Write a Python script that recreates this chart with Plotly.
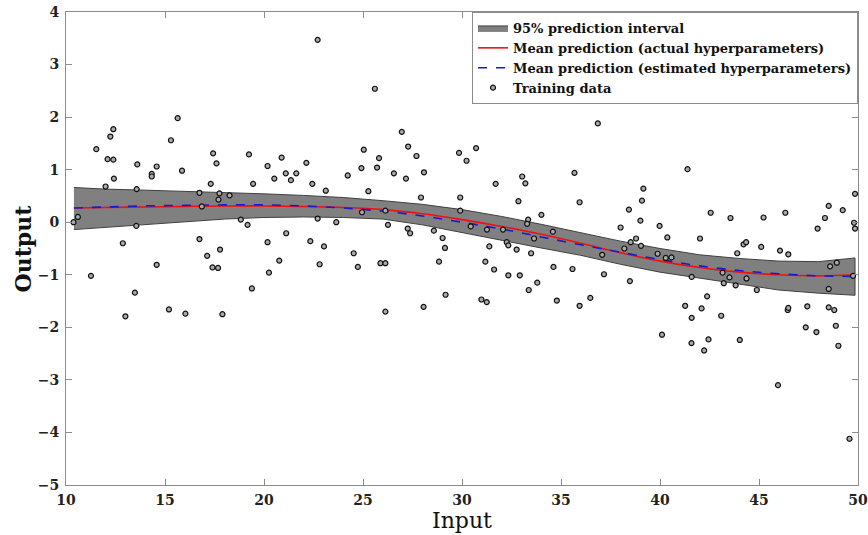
import plotly.graph_objects as go

# Training data
train_x = [10.38, 10.60, 11.53, 12.00, 12.10, 12.39, 12.24, 12.39, 12.42, 12.87, 11.26, 13.57, 13.55, 13.60,
           14.33, 14.33, 14.58, 14.58, 15.30, 15.64, 15.86, 16.74, 16.86, 17.43, 17.60, 17.31, 17.75, 17.70,
           18.26, 16.74, 17.13, 17.78, 17.40, 17.68, 18.83, 19.17, 19.24, 19.45, 20.18, 20.52, 20.89, 21.10,
           21.36, 21.63, 20.18, 21.12, 20.77, 20.25, 13.00, 13.48, 15.20, 16.03, 17.90, 19.39, 22.71, 25.60,
           22.14, 22.44, 23.12, 24.23, 24.92, 25.04, 25.71, 25.81, 25.27, 26.56, 26.96, 27.17, 27.28, 27.70,
           28.08, 27.93, 29.85, 30.23, 30.71, 29.91, 29.91, 31.70, 33.04, 33.20, 32.85, 34.01, 35.68, 35.94,
           22.71, 23.65, 24.95, 26.13, 26.26, 27.26, 27.38, 28.58, 29.02, 29.14, 30.44, 31.38, 31.26, 32.07,
           32.26, 32.34, 32.76, 33.34, 33.29, 33.64, 33.49, 34.59, 22.34, 23.03, 22.81, 24.53, 24.74, 25.88,
           26.13, 28.84, 31.18, 31.62, 32.34, 32.92, 34.62, 35.58, 26.13, 28.06, 29.17, 30.98, 31.25, 33.37,
           33.80, 34.79, 35.94, 36.86, 41.39, 39.16, 39.09, 38.43, 39.01, 38.01, 39.98, 40.37, 38.79, 38.52,
           39.04, 38.20, 37.08, 37.17, 42.56, 43.56, 45.23, 46.33, 42.02, 44.22, 44.35, 45.11, 46.06, 46.48,
           43.90, 39.88, 40.29, 40.58, 47.96, 48.33, 48.52, 49.23, 49.85, 49.80, 49.85, 48.59, 48.93, 49.75,
           41.60, 43.16, 43.51, 44.37, 38.48, 36.48, 40.10, 41.27, 41.60, 41.59, 42.10, 42.38, 42.23, 42.45,
           43.09, 43.22, 43.82, 44.03, 44.89, 45.96, 46.45, 46.48, 47.36, 47.44, 47.90, 48.52, 48.52, 48.80,
           48.88, 49.01, 49.57]
train_y = [0.00, 0.10, 1.39, 0.68, 1.20, 1.19, 1.63, 1.77, 0.83, -0.40, -1.02, 0.63, -0.07, 1.10,
           0.92, 0.87, 1.06, -0.81, 1.56, 1.98, 0.98, 0.56, 0.30, 1.31, 1.12, 0.73, 0.55, 0.43,
           0.51, -0.32, -0.64, -0.52, -0.86, -0.87, 0.05, -0.05, 1.29, 0.73, 1.07, 0.83, 1.23, 0.93,
           0.80, 0.93, -0.38, -0.21, -0.73, -0.96, -1.79, -1.34, -1.66, -1.74, -1.75, -1.26, 3.47, 2.54,
           1.13, 0.73, 0.60, 0.89, 1.03, 1.38, 1.04, 1.22, 0.59, 0.93, 1.72, 0.83, 1.44, 1.26,
           0.95, 0.47, 1.32, 1.17, 1.41, 0.47, 0.22, 0.73, 0.87, 0.74, 0.40, 0.14, 0.94, 0.38,
           0.07, 0.00, 0.19, 0.22, -0.05, -0.12, -0.21, -0.16, -0.30, -0.49, -0.08, -0.46, -0.14, -0.14,
           -0.38, -0.44, -0.52, 0.05, -0.03, -0.31, -0.59, -0.18, -0.36, -0.46, -0.80, -0.59, -0.85, -0.78,
           -0.78, -0.75, -0.75, -0.90, -1.01, -1.01, -0.85, -0.89, -1.70, -1.61, -1.38, -1.47, -1.52, -1.29,
           -1.15, -1.49, -1.59, 1.88, 1.01, 0.64, 0.41, 0.24, 0.03, -0.10, -0.07, -0.29, -0.31, -0.38,
           -0.45, -0.50, -0.62, -0.99, 0.18, 0.08, 0.09, 0.18, -0.31, -0.42, -0.38, -0.47, -0.54, -0.61,
           -0.59, -0.60, -0.68, -0.67, -0.12, 0.08, 0.31, 0.23, 0.54, -0.01, -0.12, -0.84, -0.77, -1.02,
           -1.04, -0.96, -1.05, -1.07, -1.12, -1.44, -2.14, -1.59, -1.82, -2.30, -1.64, -1.41, -2.44, -2.23,
           -1.78, -1.16, -1.20, -2.24, -1.29, -3.10, -1.67, -1.63, -2.00, -1.60, -2.09, -1.27, -1.62, -1.67,
           -1.97, -2.35, -4.12]

# Prediction curves
grid_x = [10.4, 12, 14, 16, 18, 20, 22, 24, 26, 28, 30, 32, 34, 36, 38, 40, 42, 44, 46, 48, 49.85]
mean_actual = [0.27, 0.28, 0.29, 0.30, 0.31, 0.31, 0.30, 0.28, 0.24, 0.16, 0.05, -0.08, -0.23, -0.40,
               -0.58, -0.74, -0.86, -0.95, -1.00, -1.02, -1.00]
mean_estimated = [0.27, 0.29, 0.31, 0.32, 0.33, 0.33, 0.31, 0.27, 0.21, 0.12, 0.00, -0.13, -0.28, -0.43,
                  -0.57, -0.71, -0.83, -0.92, -0.98, -1.02, -1.03]
band_upper = [0.66, 0.63, 0.61, 0.59, 0.56, 0.54, 0.51, 0.47, 0.41, 0.34, 0.24, 0.11, -0.04, -0.20,
              -0.36, -0.50, -0.62, -0.69, -0.74, -0.75, -0.68]
band_lower = [-0.14, -0.09, -0.04, 0.01, 0.06, 0.09, 0.10, 0.09, 0.06, -0.05, -0.20, -0.34, -0.49, -0.63,
              -0.80, -0.95, -1.07, -1.18, -1.29, -1.35, -1.39]

FONT = "DejaVu Serif"

fig = go.Figure()
fig.add_trace(go.Scatter(
    x=grid_x + grid_x[::-1], y=band_upper + band_lower[::-1],
    fill="toself", fillcolor="#808080", mode="lines",
    line=dict(color="#404040", width=1), name="95% prediction interval"))
fig.add_trace(go.Scatter(
    x=grid_x, y=mean_actual, mode="lines", line=dict(color="#ee1111", width=1.6, shape="spline"),
    name="Mean prediction (actual hyperparameters)"))
fig.add_trace(go.Scatter(
    x=grid_x, y=mean_estimated, mode="lines",
    line=dict(color="#1a1acc", width=1.6, dash="dash", shape="spline"),
    name="Mean prediction (estimated hyperparameters)"))
fig.add_trace(go.Scatter(
    x=train_x, y=train_y, mode="markers",
    marker=dict(size=5, color="#aaaaaa", line=dict(color="#111111", width=1.2)),
    name="Training data"))

axis_common = dict(showline=True, linecolor="#8c8c8c", linewidth=1, mirror="ticks",
                   ticks="inside", ticklen=6, tickcolor="#8c8c8c", showgrid=False, zeroline=False,
                   automargin=False,
                   tickfont=dict(family=FONT, size=14, color="#222222", weight="bold"))

fig.update_layout(
    width=868, height=535,
    margin=dict(l=66, r=10, t=12, b=50, autoexpand=False),
    plot_bgcolor="white", paper_bgcolor="white",
    font=dict(family=FONT, color="#111111"),
    xaxis=dict(range=[10, 50], dtick=5, ticklabelstandoff=2, **axis_common),
    yaxis=dict(range=[-5, 4], dtick=1, ticklabelstandoff=3, **axis_common),
    legend=dict(x=1, y=1, xanchor="right", yanchor="top", bgcolor="white",
                bordercolor="#8c8c8c", borderwidth=1, itemwidth=30, tracegroupgap=0,
                font=dict(family=FONT, size=13, color="#111111", weight="bold")),
    showlegend=True,
    annotations=[
        dict(text="Input", xref="paper", yref="paper", x=0.5, y=0, yshift=-35,
             xanchor="center", yanchor="middle", showarrow=False,
             font=dict(family=FONT, size=22, color="#111111")),
        dict(text="Output", xref="paper", yref="paper", x=0, y=0.5, xshift=-44,
             xanchor="center", yanchor="middle", showarrow=False, textangle=-90,
             font=dict(family=FONT, size=22, color="#111111", weight="bold")),
    ],
)
# remove the default page margin so the 868x535 figure fills the window exactly
fig.write_html("out.html", config={"displayModeBar": False},
               post_script="document.body.style.margin='0';document.body.style.overflow='hidden';")
